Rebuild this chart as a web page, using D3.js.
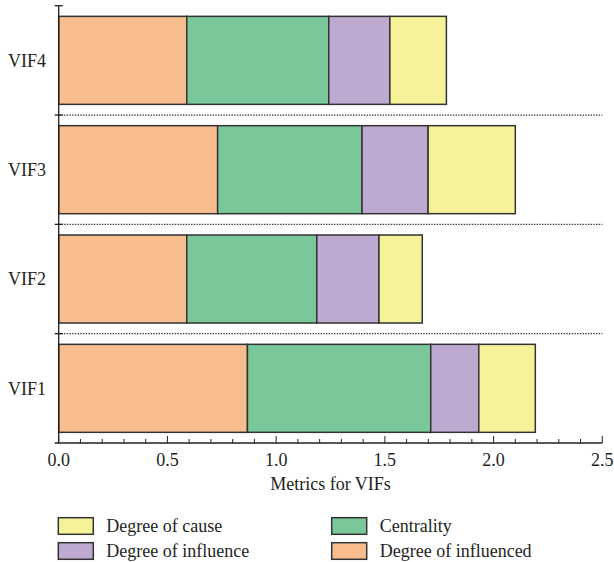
<!DOCTYPE html>
<html>
<head>
<meta charset="utf-8">
<script src="https://cdn.jsdelivr.net/npm/d3@7"></script>
<style>
  html, body { margin: 0; padding: 0; background: #fff; }
  svg text { font-family: 'Liberation Serif', 'DejaVu Serif', serif; }
</style>
</head>
<body>
<svg id="chart" width="614" height="562"></svg>
<script>
// Categories, drawn top to bottom
const categories = ["VIF4", "VIF3", "VIF2", "VIF1"];

// Stacked segments, left to right
const seriesNames = ["Degree of influenced", "Centrality", "Degree of influence", "Degree of cause"];
const degreeOfInfluenced = [0.589, 0.731, 0.589, 0.868];
const centrality         = [0.653, 0.664, 0.598, 0.843];
const degreeOfInfluence  = [0.281, 0.304, 0.286, 0.221];
const degreeOfCause      = [0.260, 0.401, 0.199, 0.260];

const xTicks = [0, 0.5, 1.0, 1.5, 2.0, 2.5];
const xTitle = "Metrics for VIFs";

const legendOrder = ["Degree of cause", "Centrality", "Degree of influence", "Degree of influenced"];

const colors = {
  "Degree of influenced": "#f8bd8f",
  "Centrality": "#7ac899",
  "Degree of influence": "#bea9d1",
  "Degree of cause": "#f5f29a"
};

const rows = categories.map((c, i) => ({
  cat: c,
  "Degree of influenced": degreeOfInfluenced[i],
  "Centrality": centrality[i],
  "Degree of influence": degreeOfInfluence[i],
  "Degree of cause": degreeOfCause[i]
}));

const svg = d3.select("#chart");
const ink = "#231f20";
const serif = "'Liberation Serif', 'DejaVu Serif', serif";

const plotLeft = 58.7, plotRight = 602.3, plotTop = 5.7, plotBottom = 443;

const x = d3.scaleLinear().domain([0, 2.5]).range([plotLeft, plotRight]);
const y = d3.scaleBand().domain(categories).range([plotTop, plotBottom])
  .paddingInner(0.195).paddingOuter(0.0975);

const stack = d3.stack().keys(seriesNames);
const layers = stack(rows);

// Dotted separators between categories
const step = y.step();
const separators = categories.slice(0, -1).map(c => y(c) - y.paddingOuter() * step + step);
svg.append("g").selectAll("line").data(separators).join("line")
  .attr("x1", plotLeft).attr("x2", plotRight)
  .attr("y1", d => d).attr("y2", d => d)
  .attr("stroke", "#333").attr("stroke-width", 1.2)
  .attr("stroke-dasharray", "1.4,1.3");

// Bars
svg.append("g").selectAll("g").data(layers).join("g")
  .attr("fill", d => colors[d.key])
  .selectAll("rect").data(d => d).join("rect")
  .attr("x", d => x(d[0]))
  .attr("width", d => x(d[1]) - x(d[0]))
  .attr("y", d => y(d.data.cat))
  .attr("height", y.bandwidth())
  .attr("stroke", "#333")
  .attr("stroke-width", 1.5);

// X axis with inward major and minor ticks
const xAxisG = svg.append("g");
xAxisG.append("line")
  .attr("x1", plotLeft - 4).attr("x2", plotRight)
  .attr("y1", plotBottom).attr("y2", plotBottom)
  .attr("stroke", ink).attr("stroke-width", 1.3);
const minor = d3.range(0, 26).map(i => i / 10).filter(v => Math.round(v * 10) % 5 !== 0);
xAxisG.selectAll("line.minor").data(minor).join("line")
  .attr("class", "minor")
  .attr("x1", d => x(d)).attr("x2", d => x(d))
  .attr("y1", plotBottom).attr("y2", plotBottom - 4)
  .attr("stroke", ink).attr("stroke-width", 1);
xAxisG.selectAll("line.major").data(xTicks).join("line")
  .attr("class", "major")
  .attr("x1", d => x(d)).attr("x2", d => x(d))
  .attr("y1", plotBottom).attr("y2", plotBottom - 7)
  .attr("stroke", ink).attr("stroke-width", 1);
xAxisG.selectAll("text").data(xTicks).join("text")
  .attr("x", d => x(d)).attr("y", 466)
  .attr("text-anchor", "middle")
  .attr("font-family", serif)
  .attr("font-size", 18).attr("fill", ink)
  .text(d => d3.format(".1f")(d));

svg.append("text")
  .attr("x", (plotLeft + plotRight) / 2).attr("y", 490)
  .attr("text-anchor", "middle")
  .attr("font-family", serif)
  .attr("font-size", 18).attr("fill", ink)
  .text(xTitle);

// Y axis with boundary ticks and category labels
const yAxisG = svg.append("g");
yAxisG.append("line")
  .attr("x1", plotLeft).attr("x2", plotLeft)
  .attr("y1", plotTop).attr("y2", plotBottom)
  .attr("stroke", ink).attr("stroke-width", 1.3);
yAxisG.selectAll("line.tick").data([plotTop].concat(separators)).join("line")
  .attr("class", "tick")
  .attr("x1", plotLeft - 4).attr("x2", plotLeft + 4)
  .attr("y1", d => d).attr("y2", d => d)
  .attr("stroke", ink).attr("stroke-width", 1.3);
yAxisG.selectAll("text").data(categories).join("text")
  .attr("x", 46).attr("y", d => y(d) + y.bandwidth() / 2)
  .attr("dy", "0.35em")
  .attr("text-anchor", "end")
  .attr("font-family", serif)
  .attr("font-size", 18).attr("fill", ink)
  .text(d => d);

// Legend, two columns
const legendPos = [
  { sx: 58.3, ty: 517.7 },
  { sx: 331.7, ty: 517.7 },
  { sx: 58.3, ty: 542.7 },
  { sx: 331.7, ty: 542.7 }
];
const lg = svg.append("g").selectAll("g").data(legendOrder).join("g")
  .attr("transform", (d, i) => `translate(${legendPos[i].sx},${legendPos[i].ty})`);
lg.append("rect")
  .attr("width", 35).attr("height", 16.6)
  .attr("fill", d => colors[d])
  .attr("stroke", "#333").attr("stroke-width", 1.5);
lg.append("text")
  .attr("x", 48).attr("y", 13.8)
  .attr("font-family", serif)
  .attr("font-size", 18).attr("fill", ink)
  .text(d => d);
</script>
</body>
</html>
